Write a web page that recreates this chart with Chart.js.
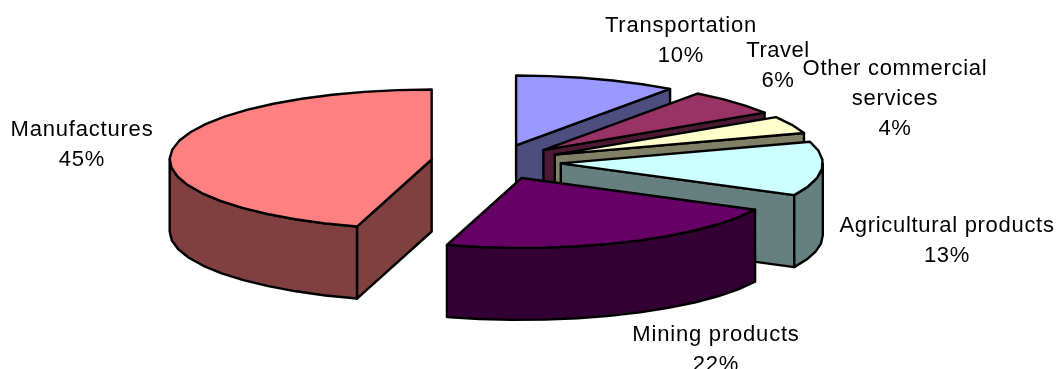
<!DOCTYPE html>
<html>
<head>
<meta charset="utf-8">
<style>
  html, body { margin: 0; padding: 0; background: #fff; }
  canvas { display: block; }
</style>
<script src="https://cdn.jsdelivr.net/npm/chart.js"></script>
</head>
<body>
<canvas id="chart" width="1056" height="369"></canvas>
<script>
const categories = ['Transportation', 'Travel', 'Other commercial services', 'Agricultural products', 'Mining products', 'Manufactures'];
const shares = [10, 6, 4, 12.5, 22.1, 45.4];
const topColors = ['#9999FF', '#993366', '#FFFFCC', '#CCFFFF', '#660066', '#FF8080'];
const wallColors = ['#4D4D80', '#4D1A33', '#808066', '#668080', '#330033', '#804040'];

// label layout, one entry per category: centre x, first line y, wrapped lines
const labelX = [681, 778, 895, 947, 716, 82];
const labelY = [26, 51, 69, 226, 335, 130];
const labelLines = [['Transportation'], ['Travel'], ['Other commercial', 'services'], ['Agricultural products'], ['Mining products'], ['Manufactures']];
const labelSpacing = ['0.8px', '0.5px', '0.7px', '0.7px', '0.8px', '0.8px'];

const SQUASH = 0.267;   // tilt of the pie plane
const DEPTH = 72;       // height of the extruded wall
const EXPLODE = 65;     // how far every slice is pulled out
const STEP = Math.PI / 24;

function rimPoints(ox, oy, r, a0, a1) {
  const n = Math.max(1, Math.ceil((a1 - a0) / STEP));
  const pts = [];
  for (let i = 0; i <= n; i++) {
    const a = a0 + (a1 - a0) * i / n;
    pts.push([ox + r * Math.cos(a), oy + r * SQUASH * Math.sin(a)]);
  }
  return pts;
}

function poly(ctx, pts, fill) {
  ctx.beginPath();
  pts.forEach((p, i) => i ? ctx.lineTo(p[0], p[1]) : ctx.moveTo(p[0], p[1]));
  ctx.closePath();
  if (fill) {
    ctx.fillStyle = fill;
    ctx.fill();
  }
  ctx.stroke();
}

const pie3d = {
  id: 'pie3d',
  beforeDatasetsDraw(chart) {
    const ctx = chart.ctx;
    const arcs = chart.getDatasetMeta(0).data;
    ctx.save();
    ctx.lineWidth = 2.4;
    ctx.lineJoin = 'round';
    ctx.strokeStyle = '#000';

    arcs.forEach((arc, i) => {
      const {x, y, startAngle, endAngle, outerRadius: r} = arc.getProps(['x', 'y', 'startAngle', 'endAngle', 'outerRadius']);
      const mid = (startAngle + endAngle) / 2;
      const ox = x + EXPLODE * Math.cos(mid);
      const oy = y + EXPLODE * SQUASH * Math.sin(mid);
      const down = p => [p[0], p[1] + DEPTH];
      const apex = [ox, oy];

      // cut faces that look towards the viewer
      if (Math.cos(startAngle) < 0 && Math.sin(startAngle) > -1) {
        const rim = rimPoints(ox, oy, r, startAngle, startAngle)[0];
        poly(ctx, [apex, rim, down(rim), down(apex)], wallColors[i]);
      }
      if (Math.cos(endAngle) > 0) {
        const rim = rimPoints(ox, oy, r, endAngle, endAngle)[0];
        poly(ctx, [apex, rim, down(rim), down(apex)], wallColors[i]);
      }

      // curved outer wall, front half only
      const from = Math.max(startAngle, 0);
      const to = Math.min(endAngle, Math.PI);
      if (to > from) {
        const rim = rimPoints(ox, oy, r, from, to);
        poly(ctx, rim.concat(rim.map(down).reverse()), wallColors[i]);
      }

      // top face comes from the library's own arc, squashed into the pie plane
      ctx.save();
      ctx.translate(ox, oy);
      ctx.scale(1, SQUASH);
      ctx.translate(-x, -y);
      arc.draw(ctx);
      ctx.restore();
      poly(ctx, [apex].concat(rimPoints(ox, oy, r, startAngle, endAngle)));
    });
    ctx.restore();

    // labels
    ctx.save();
    ctx.fillStyle = '#000';
    ctx.font = '22px "Liberation Sans"';
    ctx.textAlign = 'center';
    ctx.textBaseline = 'middle';
    categories.forEach((name, i) => {
      ctx.letterSpacing = labelSpacing[i];
      const lines = labelLines[i].concat(Math.round(shares[i]) + '%');
      lines.forEach((line, j) => ctx.fillText(line, labelX[i], labelY[i] + j * 30));
    });
    ctx.restore();
    return false;
  }
};

new Chart(document.getElementById('chart'), {
  type: 'pie',
  data: {
    labels: categories,
    datasets: [{
      data: shares,
      backgroundColor: topColors,
      borderWidth: 0,
      radius: 262
    }]
  },
  options: {
    responsive: false,
    animation: false,
    layout: { padding: { right: 64, bottom: 45 } },
    plugins: { legend: { display: false }, tooltip: { enabled: false } }
  },
  plugins: [pie3d]
});
</script>
</body>
</html>
